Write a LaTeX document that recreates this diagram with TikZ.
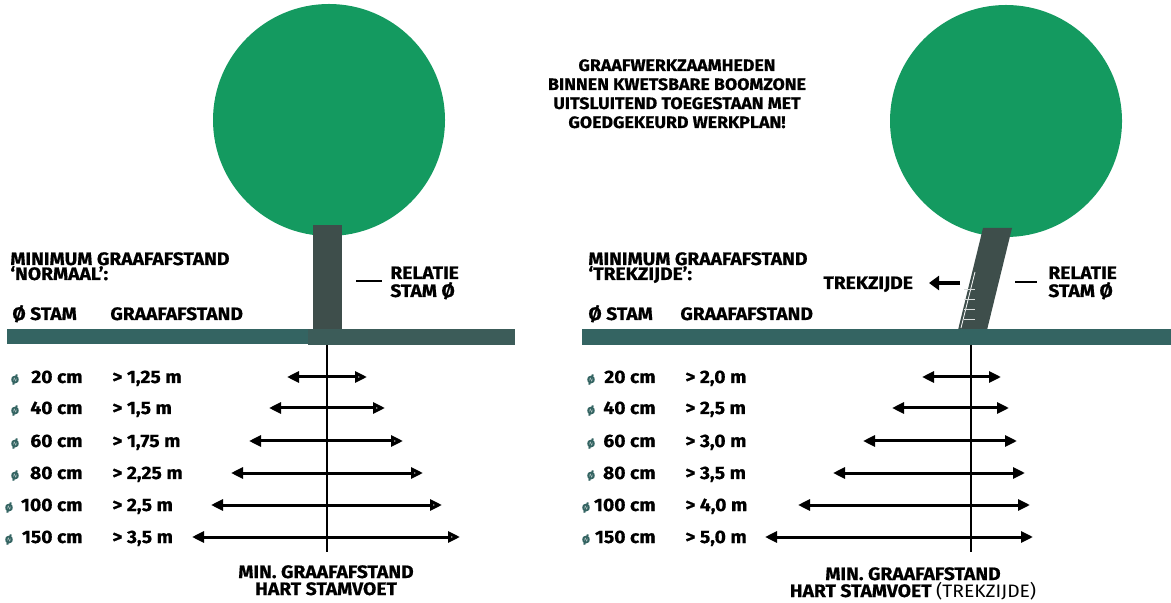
\documentclass[tikz,border=0pt]{standalone}
\usepackage{fontspec}
\setmainfont{Fira Sans}[FakeStretch=1.07, BoldFeatures={FakeBold=0.6}]
\usetikzlibrary{arrows.meta}

\definecolor{crown}{RGB}{20,154,96}
\definecolor{stem}{RGB}{62,78,75}
\definecolor{soil}{RGB}{52,100,98}
\definecolor{roots}{RGB}{60,92,89}

\tikzset{
	hdr/.style={font=\bfseries\fontsize{9}{11}\selectfont, inner sep=0pt},
	row/.style={font=\bfseries\fontsize{9}{11}\selectfont, inner sep=0pt},
	note/.style={font=\bfseries\fontsize{8.3}{10}\selectfont, inner sep=0pt},
	dot/.style={font=\bfseries\fontsize{6.5}{8}\selectfont, inner sep=0pt, text=soil},
	reach/.style={line width=1.5pt, {Triangle[length=6pt,width=5.5pt]}-{Triangle[open,length=6pt,width=5.5pt,fill=gray!45]}},
	reachb/.style={line width=1.5pt, {Triangle[length=6pt,width=5.5pt]}-{Triangle[length=6pt,width=5.5pt]}},
	axis/.style={line width=1pt},
	tick/.style={line width=1.4pt}
}

\begin{document}
\begin{tikzpicture}[x=0.5pt,y=-0.5pt]
		\useasboundingbox (0,0) rectangle (1171,603);
		
		% left tree
		\fill[crown] (329,120) circle [radius=58pt];
		\fill[stem] (313,225) rectangle (342,329);
		\fill[roots] (308,329) rectangle (515,345);
		\fill[soil] (7,329) rectangle (308,344);
		\coordinate (ltop) at (327,345);
		\coordinate (lbot) at (327,552);
		\draw[axis] (ltop) -- (lbot);
		
		% right tree
		\fill[crown] (1006,121) circle [radius=58pt];
		\fill[stem] (958,330) -- (987,330) -- (1012,228) -- (983,228) -- cycle;
		\draw[white, line width=0.4pt] (975,272) -- (961,328);
		\foreach \yy in {290,300,310,320} \draw[white!80!stem, line width=0.5pt] (964,\yy) -- (975,\yy);
		\fill[soil] (582,329) rectangle (1171,345);
		\coordinate (rtop) at (971,345);
		\coordinate (rbot) at (971,552);
		\draw[axis] (rtop) -- (rbot);
		
		% top note
		\node[note, anchor=base] (n1) at (677,71) {GRAAFWERKZAAMHEDEN};
		\node[note, anchor=base] (n2) at (677,90) {BINNEN KWETSBARE BOOMZONE};
		\node[note, anchor=base] (n3) at (677,109) {UITSLUITEND TOEGESTAAN MET};
		\node[note, anchor=base] (n4) at (677,128) {GOEDGEKEURD WERKPLAN!};
		
		% left headers
		\node[hdr, anchor=base west] (lh1) at (10,265) {MINIMUM GRAAFAFSTAND};
		\node[hdr, anchor=base west] (lh2) at (10,280) {‘NORMAAL’:};
		\node[hdr, anchor=base west] (lh3) at (12,320) {Ø STAM};
		\node[hdr, anchor=base west] (lh4) at (110,320) {GRAAFAFSTAND};
		\node[hdr, anchor=base west] (lr1) at (390,279) {RELATIE};
		\node[hdr, anchor=base west] (lr2) at (390,297) {STAM Ø};
		\coordinate (lda) at (356,281);
		\coordinate (ldb) at (382,281);
		\draw[tick] (lda) -- (ldb);
		
		% right headers
		\node[hdr, anchor=base west] (rh1) at (588,265) {MINIMUM GRAAFAFSTAND};
		\node[hdr, anchor=base west] (rh2) at (588,280) {‘TREKZIJDE’:};
		\node[hdr, anchor=base west] (rh3) at (588,320) {Ø STAM};
		\node[hdr, anchor=base west] (rh4) at (680,320) {GRAAFAFSTAND};
		\node[hdr, anchor=base west] (rt) at (823,289) {TREKZIJDE};
		\node[hdr, anchor=base west] (rr1) at (1048,279) {RELATIE};
		\node[hdr, anchor=base west] (rr2) at (1048,297) {STAM Ø};
		\coordinate (rpa) at (960,283);
		\coordinate (rpb) at (929,283);
		\draw[line width=1.8pt, -{Triangle[length=5pt,width=7pt]}] (rpa) -- (rpb);
		\coordinate (rda) at (1015,282);
		\coordinate (rdb) at (1037,282);
		\draw[tick] (rda) -- (rdb);
		
		% left table
		\node[dot, anchor=base] (ld1) at (15,383) {ø};
		\node[dot, anchor=base] (ld2) at (15,414) {ø};
		\node[dot, anchor=base] (ld3) at (15,447) {ø};
		\node[dot, anchor=base] (ld4) at (15,479) {ø};
		\node[dot, anchor=base] (ld5) at (9,511) {ø};
		\node[dot, anchor=base] (ld6) at (9,543) {ø};
		\node[row, anchor=base east] (ls1) at (83,383) {20 cm};
		\node[row, anchor=base east] (ls2) at (83,414) {40 cm};
		\node[row, anchor=base east] (ls3) at (83,447) {60 cm};
		\node[row, anchor=base east] (ls4) at (83,479) {80 cm};
		\node[row, anchor=base east] (ls5) at (83,511) {100 cm};
		\node[row, anchor=base east] (ls6) at (83,543) {150 cm};
		\node[row, anchor=base west] (lg1) at (112,383) {> 1,25 m};
		\node[row, anchor=base west] (lg2) at (112,414) {> 1,5 m};
		\node[row, anchor=base west] (lg3) at (112,447) {> 1,75 m};
		\node[row, anchor=base west] (lg4) at (112,479) {> 2,25 m};
		\node[row, anchor=base west] (lg5) at (112,511) {> 2,5 m};
		\node[row, anchor=base west] (lg6) at (112,543) {> 3,5 m};
		\draw[reach] (287,377) coordinate (lw1) -- (367,377) coordinate (le1);
		\draw[reach] (269,408) coordinate (lw2) -- (385,408) coordinate (le2);
		\draw[reach] (249,441) coordinate (lw3) -- (403,441) coordinate (le3);
		\draw[reach] (231,473) coordinate (lw4) -- (423,473) coordinate (le4);
		\draw[reach] (211,505) coordinate (lw5) -- (442,505) coordinate (le5);
		\draw[reach] (192,537) coordinate (lw6) -- (460,537) coordinate (le6);
		
		% right table
		\node[dot, anchor=base] (rd1) at (591,383) {ø};
		\node[dot, anchor=base] (rd2) at (591,414) {ø};
		\node[dot, anchor=base] (rd3) at (591,447) {ø};
		\node[dot, anchor=base] (rd4) at (591,479) {ø};
		\node[dot, anchor=base] (rd5) at (586,511) {ø};
		\node[dot, anchor=base] (rd6) at (586,543) {ø};
		\node[row, anchor=base east] (rs1) at (656,383) {20 cm};
		\node[row, anchor=base east] (rs2) at (656,414) {40 cm};
		\node[row, anchor=base east] (rs3) at (656,447) {60 cm};
		\node[row, anchor=base east] (rs4) at (656,479) {80 cm};
		\node[row, anchor=base east] (rs5) at (656,511) {100 cm};
		\node[row, anchor=base east] (rs6) at (656,543) {150 cm};
		\node[row, anchor=base west] (rg1) at (685,383) {> 2,0 m};
		\node[row, anchor=base west] (rg2) at (685,414) {> 2,5 m};
		\node[row, anchor=base west] (rg3) at (685,447) {> 3,0 m};
		\node[row, anchor=base west] (rg4) at (685,479) {> 3,5 m};
		\node[row, anchor=base west] (rg5) at (685,511) {> 4,0 m};
		\node[row, anchor=base west] (rg6) at (685,543) {> 5,0 m};
		\draw[reachb] (922,377) coordinate (rw1) -- (1001,377) coordinate (re1);
		\draw[reachb] (892,408) coordinate (rw2) -- (1009,408) coordinate (re2);
		\draw[reachb] (863,441) coordinate (rw3) -- (1017,441) coordinate (re3);
		\draw[reachb] (833,473) coordinate (rw4) -- (1025,473) coordinate (re4);
		\draw[reachb] (798,505) coordinate (rw5) -- (1030,505) coordinate (re5);
		\draw[reachb] (765,537) coordinate (rw6) -- (1033,537) coordinate (re6);
		
		% captions
		\node[hdr, anchor=base] (lc1) at (326,578) {MIN. GRAAFAFSTAND};
		\node[hdr, anchor=base] (lc2) at (326,595) {HART STAMVOET};
		\node[hdr, anchor=base] (rc1) at (913,580) {MIN. GRAAFAFSTAND};
		\node[hdr, anchor=base] (rc2) at (913,597) {HART STAMVOET {\mdseries(TREKZIJDE)}};
		
	\end{tikzpicture}
\end{document}
